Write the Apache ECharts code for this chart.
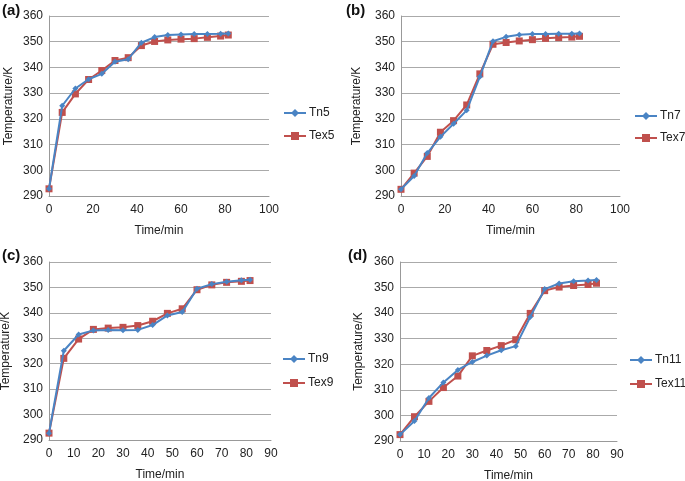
<!DOCTYPE html>
<html>
<head>
    <meta charset="utf-8">
    <script src="https://cdn.jsdelivr.net/npm/echarts@6/dist/echarts.min.js"></script>
    <style>
        body { margin: 0; background: #fff; }
    </style>
</head>
<body>
<div id="main" style="width: 685px;height:481px;"></div>
<script type="text/javascript">
    // time points (min)
    var times = [0, 6, 12, 18, 24, 30, 36, 42, 48, 54, 60, 66, 72, 78, 81.5];

    // temperature series (K)
    var tn5  = [292.8, 325.1, 331.8, 335.4, 337.5, 342.2, 343.2, 349.6, 351.8, 352.6, 352.8, 353.0, 353.0, 353.1, 353.2];
    var tex5 = [292.8, 322.5, 329.7, 335.3, 338.8, 342.7, 343.8, 348.5, 350.1, 350.7, 351.0, 351.2, 351.7, 352.2, 352.6];

    var tn7  = [292.6, 297.8, 306.7, 313.0, 318.1, 323.3, 336.4, 350.2, 351.9, 352.7, 353.0, 353.0, 353.1, 353.1, 353.2];
    var tex7 = [292.6, 298.9, 305.4, 314.8, 319.3, 325.4, 337.5, 349.0, 349.7, 350.3, 350.8, 351.3, 351.6, 351.8, 352.1];

    var tn9  = [292.7, 325.1, 331.5, 333.1, 333.3, 333.2, 333.3, 335.2, 339.0, 340.3, 349.5, 351.3, 352.2, 352.8, 353.0];
    var tex9 = [292.7, 322.1, 329.7, 333.5, 334.0, 334.3, 335.0, 336.7, 339.8, 341.6, 349.1, 351.0, 352.0, 352.4, 352.7];

    var tn11  = [292.5, 297.8, 306.8, 312.9, 317.8, 320.9, 323.4, 325.5, 327.1, 338.5, 349.4, 351.6, 352.5, 352.8, 353.0];
    var tex11 = [292.5, 299.5, 305.5, 310.9, 315.4, 323.3, 325.4, 327.3, 329.6, 339.9, 348.8, 350.2, 350.8, 351.2, 351.7];

    var xMax = [100, 100, 90, 90];
    var xStep = [20, 20, 10, 10];
    var yTicks = [290, 300, 310, 320, 330, 340, 350, 360];

    var panelNames = ['(a)', '(b)', '(c)', '(d)'];
    var seriesNames = [['Tn5', 'Tex5'], ['Tn7', 'Tex7'], ['Tn9', 'Tex9'], ['Tn11', 'Tex11']];
    var seriesData = [[tn5, tex5], [tn7, tex7], [tn9, tex9], [tn11, tex11]];

    var blue = '#4a84c4';
    var red = '#c0504d';
    var font = 'Liberation Sans, Arial, sans-serif';

    function pairs(vals) {
        var out = [];
        for (let i = 0; i < vals.length; i++) {
            out.push([times[i], vals[i]]);
        }
        return out;
    }

    // panel layout (grid boxes, legend spots, label spots)
    var grids = [
        {left: 49, top: 16, width: 220, height: 180, outerBoundsMode: 'none'},
        {left: 401, top: 16, width: 219, height: 180, outerBoundsMode: 'none'},
        {left: 49, top: 262, width: 222, height: 178, outerBoundsMode: 'none'},
        {left: 400, top: 262, width: 217, height: 179, outerBoundsMode: 'none'}
    ];
    var legendPos = [
        {left: 283, top: 107, gap: 11},
        {left: 634, top: 110, gap: 10},
        {left: 282, top: 353, gap: 12},
        {left: 629, top: 354, gap: 12}
    ];
    var labelPos = [[2, 3], [346, 3], [2, 248], [348, 248]];
    var yNameGap = [34, 38, 37, 35];

    var myChart = echarts.init(document.getElementById('main'), null, {renderer: 'canvas'});

    var xAxes = [], yAxes = [], series = [], legends = [], titles = [];
    for (let p = 0; p < 4; p++) {
        xAxes.push({
            gridIndex: p,
            type: 'value',
            min: 0,
            max: xMax[p],
            interval: xStep[p],
            name: 'Time/min',
            nameLocation: 'middle',
            nameGap: 29,
            nameTextStyle: {color: '#222', fontSize: 12, fontFamily: font},
            axisLine: {lineStyle: {color: '#999', width: 1}},
            axisTick: {show: false},
            axisLabel: {color: '#222', fontSize: 12, fontFamily: font, margin: 8},
            splitLine: {show: false}
        });
        yAxes.push({
            gridIndex: p,
            type: 'value',
            min: yTicks[0],
            max: yTicks[yTicks.length - 1],
            interval: 10,
            name: 'Temperature/K',
            nameLocation: 'middle',
            nameGap: yNameGap[p],
            nameTextStyle: {color: '#222', fontSize: 12, fontFamily: font},
            axisLine: {show: true, lineStyle: {color: '#999', width: 1}},
            axisTick: {show: false},
            axisLabel: {color: '#222', fontSize: 12, fontFamily: font, margin: 6},
            splitLine: {lineStyle: {color: '#aaa', width: 1}}
        });
        series.push({
            name: seriesNames[p][0],
            type: 'line',
            xAxisIndex: p,
            yAxisIndex: p,
            data: pairs(seriesData[p][0]),
            symbol: 'diamond',
            symbolSize: 6,
            lineStyle: {color: blue, width: 2},
            itemStyle: {color: blue},
            z: 3
        });
        series.push({
            name: seriesNames[p][1],
            type: 'line',
            xAxisIndex: p,
            yAxisIndex: p,
            data: pairs(seriesData[p][1]),
            symbol: 'rect',
            symbolSize: 7,
            lineStyle: {color: red, width: 2},
            itemStyle: {color: red},
            z: 2
        });
        legends.push({
            data: seriesNames[p],
            orient: 'vertical',
            left: legendPos[p].left,
            top: legendPos[p].top,
            itemGap: legendPos[p].gap,
            itemWidth: 22,
            itemHeight: 10,
            padding: 0,
            textStyle: {color: '#222', fontSize: 12, fontFamily: font, padding: [0, 0, 0, -2]},
            selectedMode: false
        });
        titles.push({
            text: panelNames[p],
            left: labelPos[p][0],
            top: labelPos[p][1],
            padding: 0,
            textStyle: {color: '#111', fontSize: 15, fontWeight: 'bold', fontFamily: font}
        });
    }

    myChart.setOption({
        animation: false,
        backgroundColor: '#fff',
        title: titles,
        legend: legends,
        grid: grids,
        xAxis: xAxes,
        yAxis: yAxes,
        series: series
    });
</script>
</body>
</html>
